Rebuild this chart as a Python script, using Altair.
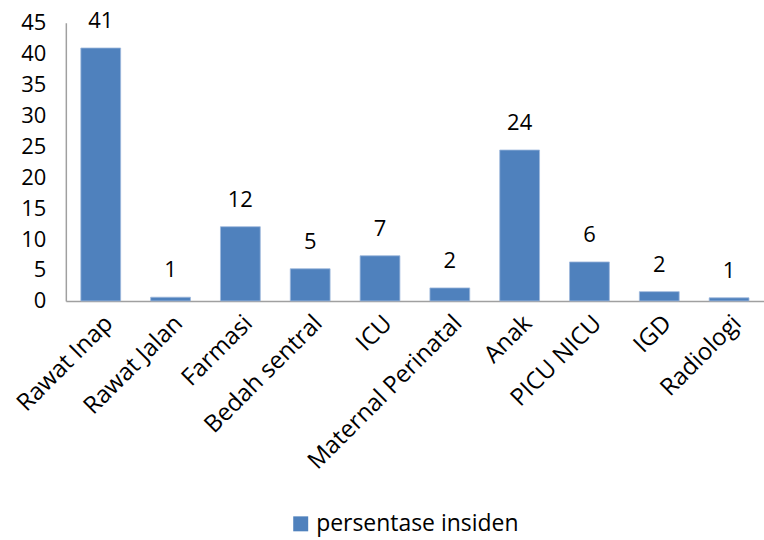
import altair as alt
import pandas as pd

categories = ["Rawat Inap", "Rawat Jalan", "Farmasi", "Bedah sentral", "ICU",
              "Maternal Perinatal", "Anak", "PICU NICU", "IGD", "Radiologi"]
values = [40.9, 0.6, 12.0, 5.2, 7.3, 2.1, 24.4, 6.3, 1.5, 0.5]
value_labels = ["41", "1", "12", "5", "7", "2", "24", "6", "2", "1"]
y_ticks = [0, 5, 10, 15, 20, 25, 30, 35, 40, 45]
series_name = "persentase insiden"

df = pd.DataFrame({
    "kategori": categories,
    "nilai": values,
    "label": value_labels,
    "seri": [series_name] * len(categories),
})

FONT = "Open Sans"

x_enc = alt.X(
    "kategori:N",
    sort=categories,
    scale=alt.Scale(paddingInner=0.43, paddingOuter=0.215),
    axis=alt.Axis(
        title=None, labelAngle=-45, labelAlign="right", labelBaseline="top",
        labelPadding=10, ticks=False, domainColor="#a0a0a0", domainWidth=1.5,
        labelFont=FONT, labelFontSize=24, labelColor="black", labelLimit=400,
        labelOverlap=False,
    ),
)
y_enc = alt.Y(
    "nilai:Q",
    scale=alt.Scale(domain=[0, 45]),
    axis=alt.Axis(
        title=None, values=y_ticks, grid=False, ticks=False,
        domainColor="#a0a0a0", domainWidth=1.5, labelPadding=20,
        labelFont=FONT, labelFontSize=22, labelColor="black",
        labelOverlap=False, labelFlush=False,
    ),
)

bars = alt.Chart(df).mark_bar(stroke="#9db8dc", strokeWidth=0.8).encode(
    x=x_enc,
    y=y_enc,
    color=alt.Color(
        "seri:N",
        scale=alt.Scale(range=["#4F81BD"]),
        legend=alt.Legend(
            title=None, orient="none", legendX=224, legendY=491,
            symbolType="square", symbolSize=225, symbolStrokeWidth=0,
            labelFont=FONT, labelFontSize=23, labelColor="black",
            labelLimit=400,
        ),
    ),
)

texts = alt.Chart(df).mark_text(
    baseline="alphabetic", dy=-20, font=FONT, fontSize=22, color="black"
).encode(
    x=x_enc,
    y=y_enc,
    text="label:N",
)

chart = (bars + texts).properties(
    width=700, height=279,
    autosize=alt.AutoSizeParams(type="none"),
    padding={"left": 66, "top": 22, "right": 0, "bottom": 239},
).configure(background="white").configure_view(stroke=None)

chart.save("out.html", embed_options={"renderer": "svg", "actions": False})
